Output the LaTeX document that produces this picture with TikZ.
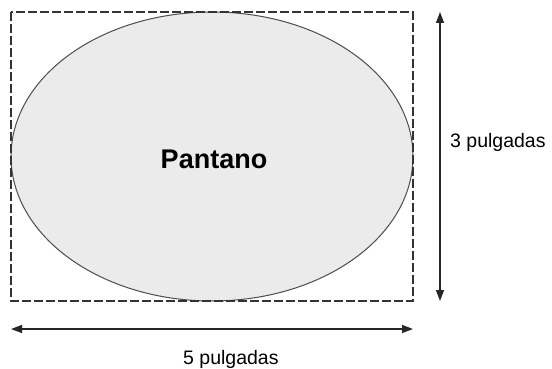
\documentclass[tikz,border=0pt]{standalone}
\usepackage{fontspec}
\setmainfont{Liberation Sans}
\usetikzlibrary{arrows.meta,shapes.geometric}
\begin{document}
\begin{tikzpicture}[x=1pt,y=-1pt,
  dimarrow/.style={line width=1.3pt,black!85,{Triangle[length=11pt,width=8pt]}-{Triangle[length=11pt,width=8pt]}},
  frame/.style={draw=black!80,line width=1.4pt,dash pattern=on 9pt off 3pt},
  marsh/.style={draw=black!70,line width=1pt,fill=black!8},
  lbl/.style={font=\fontsize{19.5}{22}\selectfont,inner sep=0pt}]
\useasboundingbox (0,0) rectangle (552,369);
\node[marsh,ellipse,minimum width=402pt,minimum height=289pt,inner sep=0pt] (ell) at (212,156.5) {};
\draw[frame] (11,12) rectangle (413,301);
\node[font=\bfseries\fontsize{27}{30}\selectfont,inner sep=0pt,anchor=base] (p) at (214,168) {Pantano};
\coordinate (vt) at (440,12);
\coordinate (vb) at (440,301);
\coordinate (hl) at (11,329);
\coordinate (hr) at (413,329);
\draw[dimarrow] (vt) -- (vb);
\draw[dimarrow] (hl) -- (hr);
\node[lbl,anchor=base west] (t3) at (450,147) {3 pulgadas};
\node[lbl,anchor=base west] (t5) at (183,364) {5 pulgadas};
\end{tikzpicture}
\end{document}
